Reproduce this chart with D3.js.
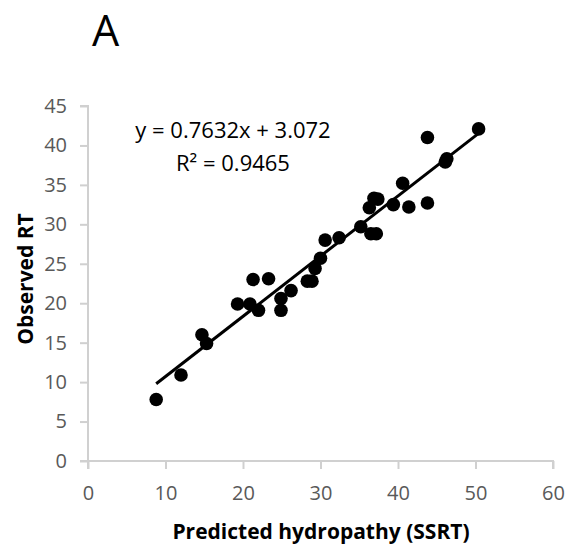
<!DOCTYPE html>
<html>
<head>
<meta charset="utf-8">
<script src="https://cdn.jsdelivr.net/npm/d3@7"></script>
<style>
  body { margin: 0; background: #fff; }
  text { font-family: "Open Sans", sans-serif; }
</style>
</head>
<body>
<div id="output"></div>
<script>
var w = 571;   // svg width
var h = 552;   // svg height

// data
var predicted = [8.8, 12.0, 14.7, 15.3, 19.3, 20.9, 22.0, 21.3, 23.3, 24.9, 24.9, 26.2, 28.3, 28.9, 29.3, 30.0,
                 30.6, 32.4, 35.2, 36.3, 36.9, 37.4, 36.5, 37.2, 39.4, 40.6, 41.4, 43.8, 43.8, 46.1, 46.3, 50.4];
var observed  = [7.8, 10.9, 16.0, 14.9, 19.9, 19.9, 19.1, 23.0, 23.1, 20.6, 19.1, 21.6, 22.8, 22.8, 24.4, 25.7,
                 28.0, 28.3, 29.7, 32.1, 33.3, 33.2, 28.8, 28.8, 32.5, 35.2, 32.2, 32.7, 41.0, 37.9, 38.3, 42.1];
var xTicks = [0, 10, 20, 30, 40, 50, 60];
var yTicks = [0, 5, 10, 15, 20, 25, 30, 35, 40, 45];
var slope = 0.7632, intercept = 3.072;
var eqLabels = ['y = 0.7632x + 3.072', 'R² = 0.9465'];

var margin = {left: 88, right: 18, top: 106, bottom: 91};

var svg = d3.select('#output').append('svg')
  .attr('width', w)
  .attr('height', h);

var x = d3.scaleLinear().domain([0, 60]).range([margin.left, w - margin.right]);
var y = d3.scaleLinear().domain([0, 45]).range([h - margin.bottom, margin.top]);

// panel letter
svg.append('text').attr('x', 92).attr('y', 46).attr('font-size', 43).attr('fill', '#000').text('A');

// y axis
var yAxis = svg.append('g').attr('transform', 'translate(' + margin.left + ',0)')
  .call(d3.axisLeft(y).tickValues(yTicks).tickSize(8).tickPadding(13));
// x axis
var xAxis = svg.append('g').attr('transform', 'translate(0,' + (h - margin.bottom) + ')')
  .call(d3.axisBottom(x).tickValues(xTicks).tickSize(8).tickPadding(17));

[yAxis, xAxis].forEach(function (g) {
  g.select('.domain').attr('stroke', '#d0d0d0').attr('stroke-width', 2);
  g.selectAll('.tick line').attr('stroke', '#d0d0d0').attr('stroke-width', 2);
  g.selectAll('.tick text').attr('fill', '#595959').attr('font-size', 20).attr('font-family', '"Open Sans", sans-serif');
});
xAxis.select('.domain').attr('d', 'M' + x(0) + ',8V0H' + x(60) + 'V8');
yAxis.select('.domain').attr('d', 'M-8,' + y(45) + 'H0V' + y(0) + 'H-8');

// trend line
var xMin = d3.min(predicted), xMax = d3.max(predicted);
svg.append('line')
  .attr('x1', x(xMin)).attr('y1', y(slope * xMin + intercept))
  .attr('x2', x(xMax)).attr('y2', y(slope * xMax + intercept))
  .attr('stroke', '#000').attr('stroke-width', 3);

// points
svg.selectAll('circle')
  .data(predicted)
  .enter()
  .append('circle')
  .attr('cx', function (d) { return x(d); })
  .attr('cy', function (d, i) { return y(observed[i]); })
  .attr('r', 6.8)
  .attr('fill', '#000');

// equation
svg.selectAll('.eq')
  .data(eqLabels)
  .enter()
  .append('text')
  .attr('class', 'eq')
  .attr('x', 233)
  .attr('y', function (d, i) { return 138 + i * 33; })
  .attr('text-anchor', 'middle')
  .attr('font-size', 22)
  .attr('fill', '#000')
  .text(function (d) { return d; });

// axis titles
svg.append('text')
  .attr('x', 321).attr('y', 539)
  .attr('text-anchor', 'middle')
  .attr('font-size', 21).attr('font-weight', 'bold')
  .text('Predicted hydropathy (SSRT)');
svg.append('text')
  .attr('transform', 'translate(33,279) rotate(-90)')
  .attr('text-anchor', 'middle')
  .attr('font-size', 21).attr('font-weight', 'bold')
  .text('Observed RT');
</script>
</body>
</html>
